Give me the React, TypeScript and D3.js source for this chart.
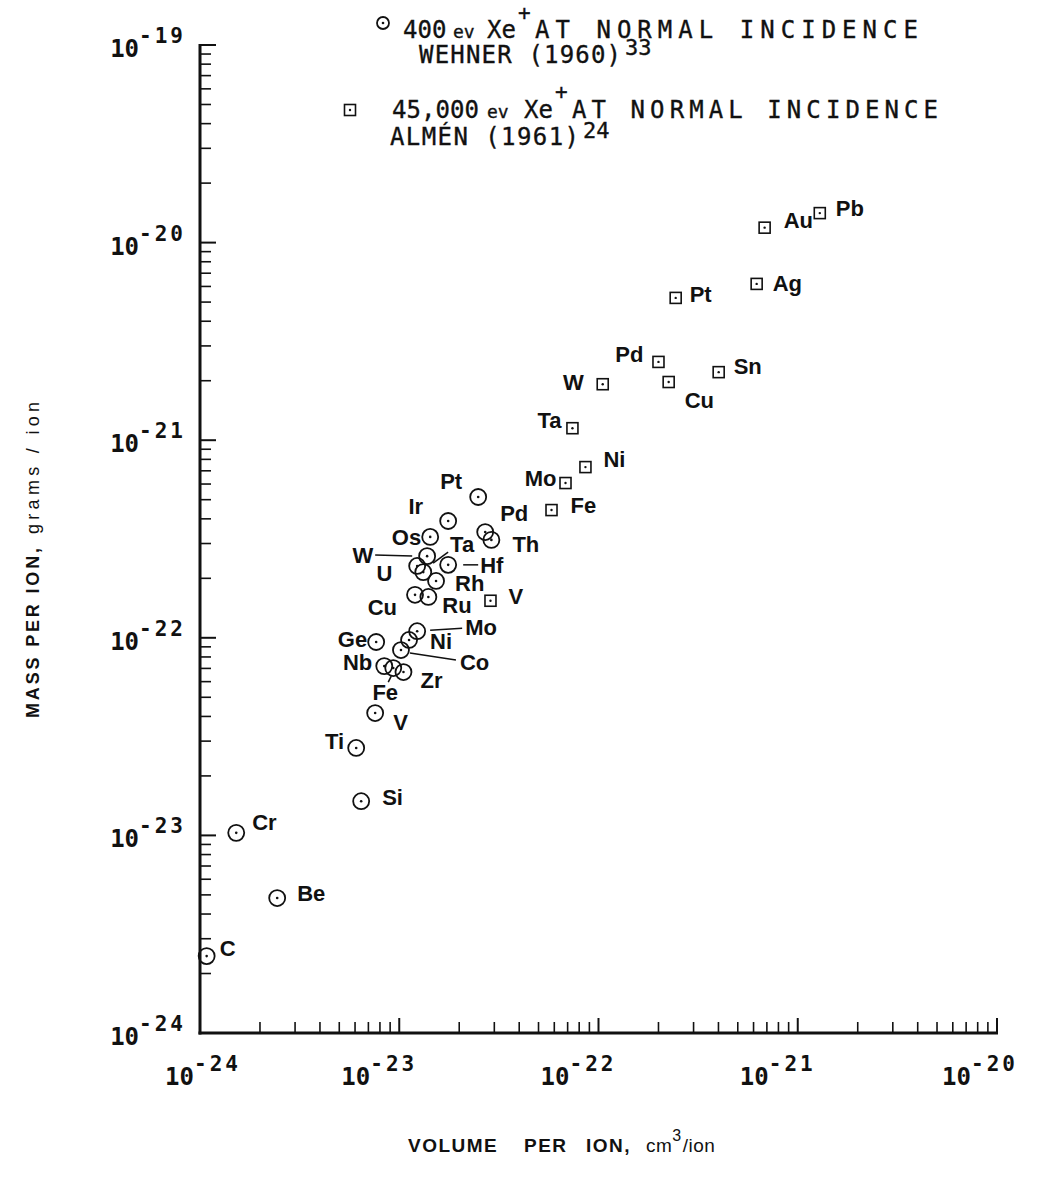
import React from 'react';
import * as d3 from 'd3';

// ---------- DATA ----------
// Wehner (1960), 400 ev Xe+ at normal incidence (circles)
const wehnerElements = ['C', 'Be', 'Cr', 'Si', 'Ti', 'V', 'Nb', 'Fe', 'Zr', 'Co', 'Ni', 'Mo', 'Ge', 'Cu', 'Ru', 'Rh', 'W', 'U', 'Ta', 'Hf', 'Os', 'Ir', 'Pt', 'Pd', 'Th'];
const wehnerVolume = [1.08e-24, 2.44e-24, 1.52e-24, 6.44e-24, 6.08e-24, 7.57e-24, 8.41e-24, 9.33e-24, 1.05e-23, 1.02e-23, 1.12e-23, 1.23e-23, 7.66e-24, 1.2e-23, 1.4e-23, 1.53e-23, 1.23e-23, 1.32e-23, 1.38e-23, 1.76e-23, 1.43e-23, 1.76e-23, 2.49e-23, 2.7e-23, 2.9e-23];
const wehnerMass = [2.45e-24, 4.82e-24, 1.03e-23, 1.49e-23, 2.77e-23, 4.16e-23, 7.19e-23, 7.03e-23, 6.71e-23, 8.67e-23, 9.75e-23, 1.08e-22, 9.52e-23, 1.65e-22, 1.61e-22, 1.94e-22, 2.31e-22, 2.15e-22, 2.59e-22, 2.34e-22, 3.24e-22, 3.9e-22, 5.16e-22, 3.43e-22, 3.13e-22];

// Almen (1961), 45,000 ev Xe+ at normal incidence (squares)
const almenElements = ['V', 'Fe', 'Mo', 'Ni', 'Ta', 'W', 'Pd', 'Cu', 'Sn', 'Pt', 'Ag', 'Au', 'Pb'];
const almenVolume = [2.87e-23, 5.81e-23, 6.83e-23, 8.6e-23, 7.4e-23, 1.05e-22, 2.0e-22, 2.25e-22, 4.01e-22, 2.44e-22, 6.22e-22, 6.82e-22, 1.29e-21];
const almenMass = [1.54e-22, 4.43e-22, 6.07e-22, 7.31e-22, 1.15e-21, 1.92e-21, 2.49e-21, 1.97e-21, 2.21e-21, 5.25e-21, 6.18e-21, 1.19e-20, 1.41e-20];

const xTickExponents = [-24, -23, -22, -21, -20];
const yTickExponents = [-24, -23, -22, -21, -20, -19];

const xTitleWords = ['VOLUME', 'PER', 'ION,'];
const xTitleUnit = ['cm', '3', '/ion'];
const yTitleMain = 'MASS PER ION,';
const yTitleUnit = 'grams / ion';

// ---------- LAYOUT (label placement relative to marker, px) ----------
type Lay = { dx: number; dy: number; a: 'start' | 'end' | 'middle'; lead?: [number, number, number, number] };
const wehnerLayout: Record<string, Lay> = {
  C: { dx: 13, dy: -8, a: 'start' },
  Be: { dx: 20, dy: -5, a: 'start' },
  Cr: { dx: 16, dy: -11, a: 'start' },
  Si: { dx: 21, dy: -4, a: 'start' },
  Ti: { dx: -12, dy: -7, a: 'end' },
  V: { dx: 18, dy: 9, a: 'start' },
  Nb: { dx: -12, dy: -4, a: 'end' },
  Fe: { dx: -8, dy: 24, a: 'middle', lead: [-2, 8, -5, 14] },
  Zr: { dx: 17, dy: 8, a: 'start' },
  Co: { dx: 59, dy: 12, a: 'start', lead: [9, 3, 55, 10] },
  Ni: { dx: 21, dy: 1, a: 'start' },
  Mo: { dx: 48, dy: -4, a: 'start', lead: [13, -1, 45, -3] },
  Ge: { dx: -9, dy: -3, a: 'end' },
  Cu: { dx: -18, dy: 12, a: 'end' },
  Ru: { dx: 14, dy: 8, a: 'start' },
  Rh: { dx: 19, dy: 2, a: 'start' },
  W: { dx: -44, dy: -11, a: 'end', lead: [-42, -11, -5, -10] },
  U: { dx: -31, dy: 1, a: 'end' },
  Ta: { dx: 23, dy: -12, a: 'start', lead: [6, 7, 21, -4] },
  Hf: { dx: 32, dy: 0, a: 'start', lead: [15, 0, 30, 0] },
  Os: { dx: -9, dy: 0, a: 'end' },
  Ir: { dx: -25, dy: -15, a: 'end' },
  Pt: { dx: -16, dy: -16, a: 'end' },
  Pd: { dx: 15, dy: -19, a: 'start' },
  Th: { dx: 21, dy: 4, a: 'start' },
};
const almenLayout: Record<string, Lay> = {
  V: { dx: 18, dy: -5, a: 'start' },
  Fe: { dx: 19, dy: -5, a: 'start' },
  Mo: { dx: -9, dy: -5, a: 'end' },
  Ni: { dx: 18, dy: -8, a: 'start' },
  Ta: { dx: -11, dy: -8, a: 'end' },
  W: { dx: -19, dy: -2, a: 'end' },
  Pd: { dx: -15, dy: -8, a: 'end' },
  Cu: { dx: 16, dy: 18, a: 'start' },
  Sn: { dx: 15, dy: -6, a: 'start' },
  Pt: { dx: 14, dy: -4, a: 'start' },
  Ag: { dx: 16, dy: -1, a: 'start' },
  Au: { dx: 19, dy: -8, a: 'start' },
  Pb: { dx: 16, dy: -5, a: 'start' },
};
// horizontal shift of each x tick label centre relative to its tick
const xLabelShift: Record<number, number> = { [-24]: 3, [-23]: -20, [-22]: -20, [-21]: -20, [-20]: -17 };

const W = 1042;
const H = 1185;
const X0 = 200, X1 = 997, Y0 = 1033, Y1 = 45;
const INK = '#111';
const LABEL_FONT = '"Liberation Sans", Arial, sans-serif';
const MONO = '"DejaVu Sans Mono", monospace';

function Circ({ x, y, r = 8 }: { x: number; y: number; r?: number }) {
  return (
    <g>
      <circle cx={x} cy={y} r={r} fill="none" stroke={INK} strokeWidth={1.8} />
      <circle cx={x} cy={y} r={1.3} fill={INK} />
    </g>
  );
}
function Sq({ x, y, s = 11 }: { x: number; y: number; s?: number }) {
  return (
    <g>
      <rect x={x - s / 2} y={y - s / 2} width={s} height={s} fill="none" stroke={INK} strokeWidth={1.6} />
      <circle cx={x} cy={y} r={1.2} fill={INK} />
    </g>
  );
}

export default function App() {
  const x = d3.scaleLog().domain([1e-24, 1e-20]).range([X0, X1]);
  const y = d3.scaleLog().domain([1e-24, 1e-19]).range([Y0, Y1]);
  const isMajor = (v: number) => Math.abs(Math.log10(v) - Math.round(Math.log10(v))) < 1e-6;

  const xt = x.ticks();
  const yt = y.ticks();

  const renderLabel = (name: string, px: number, py: number, lay: Lay, key: string) => (
    <g key={key}>
      {lay.lead && (
        <line x1={px + lay.lead[0]} y1={py + lay.lead[1]} x2={px + lay.lead[2]} y2={py + lay.lead[3]} stroke={INK} strokeWidth={1.5} />
      )}
      <text x={px + lay.dx} y={py + lay.dy + 8} textAnchor={lay.a} fontFamily={LABEL_FONT} fontWeight="bold" fontSize={22} fill={INK}>
        {name}
      </text>
    </g>
  );

  const legText = { fontFamily: MONO, fill: INK, fontSize: 24, stroke: INK, strokeWidth: 0.35 } as const;
  const xTitleX = [408, 524, 586];

  return (
    <svg width={W} height={H} viewBox={`0 0 ${W} ${H}`} style={{ position: 'absolute', left: 0, top: 0, background: '#fff' }}>
      <rect x={0} y={0} width={W} height={H} fill="#fff" />

      {/* axes */}
      <line x1={X0} y1={Y1 - 1} x2={X0} y2={Y0 + 1.5} stroke={INK} strokeWidth={3} />
      <line x1={X0 - 1.5} y1={Y0} x2={X1 + 1} y2={Y0} stroke={INK} strokeWidth={3} />

      {xt.map((v, i) => {
        const m = isMajor(v);
        return <line key={'xt' + i} x1={x(v)} x2={x(v)} y1={Y0} y2={Y0 - (m ? 15 : 11)} stroke={INK} strokeWidth={m ? 2 : 1.6} />;
      })}
      {yt.map((v, i) => {
        const m = isMajor(v);
        return <line key={'yt' + i} x1={X0} x2={X0 + (m ? 16 : 11)} y1={y(v)} y2={y(v)} stroke={INK} strokeWidth={m ? 2 : 1.6} />;
      })}

      {/* tick labels */}
      {xTickExponents.map((e) => (
        <text key={'xl' + e} x={x(Math.pow(10, e)) + (xLabelShift[e] || 0)} y={Y0 + 52} textAnchor="middle" fontFamily={MONO} fontWeight="bold" fill={INK}>
          <tspan fontSize={24}>10</tspan>
          <tspan fontSize={21} dy={-14} letterSpacing={3}>{String(e)}</tspan>
        </text>
      ))}
      {yTickExponents.map((e) => (
        <text key={'yl' + e} x={186} y={y(Math.pow(10, e)) + 12} textAnchor="end" fontFamily={MONO} fontWeight="bold" fill={INK}>
          <tspan fontSize={24}>10</tspan>
          <tspan fontSize={21} dy={-14} letterSpacing={3}>{String(e)}</tspan>
        </text>
      ))}

      {/* axis titles */}
      {xTitleWords.map((w, i) => (
        <text key={'xw' + i} x={xTitleX[i]} y={1152} fontFamily={LABEL_FONT} fontWeight="bold" fontSize={19} letterSpacing={1.5} fill={INK}>
          {w}
        </text>
      ))}
      <text x={646} y={1152} fontFamily={LABEL_FONT} fontSize={19} fill={INK} letterSpacing={0.5}>
        <tspan>{xTitleUnit[0]}</tspan>
        <tspan fontSize={16} dy={-11}>{xTitleUnit[1]}</tspan>
        <tspan dy={11} dx={1}>{xTitleUnit[2]}</tspan>
      </text>
      <text transform={`translate(39, 718) rotate(-90)`} fontFamily={LABEL_FONT} fontWeight="bold" fontSize={18} fill={INK} textLength={170} lengthAdjust="spacing">
        {yTitleMain}
      </text>
      <text transform={`translate(39, 534) rotate(-90)`} fontFamily={LABEL_FONT} fontSize={18} fill={INK} textLength={132} lengthAdjust="spacing">
        {yTitleUnit}
      </text>

      {/* legend */}
      <Circ x={383} y={23} r={6} />
      <text y={38} {...legText}>
        <tspan x={403}>400</tspan>
        <tspan x={453} fontSize={18}>ev</tspan>
        <tspan x={487}>Xe</tspan>
        <tspan x={518} y={20} fontSize={21}>+</tspan>
        <tspan x={535} y={38} textLength={383} lengthAdjust="spacing">AT NORMAL INCIDENCE</tspan>
      </text>
      <text y={63} {...legText}>
        <tspan x={419} textLength={202} lengthAdjust="spacing">WEHNER (1960)</tspan>
        <tspan x={625} y={55} fontSize={22}>33</tspan>
      </text>
      <Sq x={350} y={110} s={11} />
      <text y={118} {...legText}>
        <tspan x={392} textLength={87} lengthAdjust="spacing">45,000</tspan>
        <tspan x={487} fontSize={18}>ev</tspan>
        <tspan x={524}>Xe</tspan>
        <tspan x={555} y={99} fontSize={21}>+</tspan>
        <tspan x={572} y={118} textLength={366} lengthAdjust="spacing">AT NORMAL INCIDENCE</tspan>
      </text>
      <text y={145} {...legText}>
        <tspan x={390} textLength={189} lengthAdjust="spacing">ALMÉN (1961)</tspan>
        <tspan x={583} y={138} fontSize={22}>24</tspan>
      </text>

      {/* data: Wehner circles */}
      {wehnerElements.map((el, i) => (
        <Circ key={'wc' + i} x={x(wehnerVolume[i])} y={y(wehnerMass[i])} />
      ))}
      {wehnerElements.map((el, i) => renderLabel(el, x(wehnerVolume[i]), y(wehnerMass[i]), wehnerLayout[el], 'wl' + i))}

      {/* data: Almen squares */}
      {almenElements.map((el, i) => (
        <Sq key={'as' + i} x={x(almenVolume[i])} y={y(almenMass[i])} />
      ))}
      {almenElements.map((el, i) => renderLabel(el, x(almenVolume[i]), y(almenMass[i]), almenLayout[el], 'al' + i))}
    </svg>
  );
}
